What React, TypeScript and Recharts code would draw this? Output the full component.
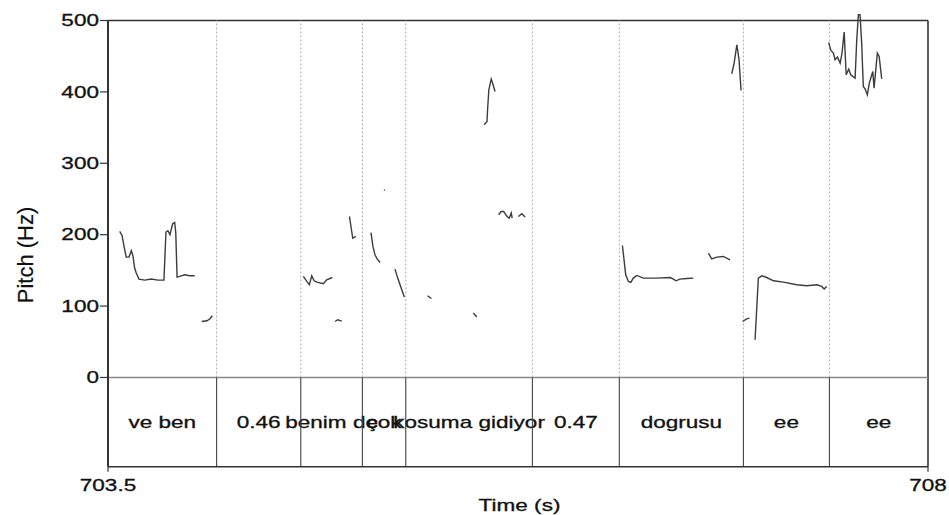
import React from 'react';
import { LineChart, Line, XAxis, YAxis, ReferenceLine, ReferenceArea } from 'recharts';

const FONT = '"Liberation Sans", Arial, sans-serif';

// ---- axes ----
const TIME_DOMAIN: [number, number] = [703.5, 708];
const TIME_TICKS = [703.5, 708];
const PITCH_DOMAIN: [number, number] = [-125, 500];
const PITCH_TICKS = [0, 100, 200, 300, 400, 500];

// ---- TextGrid tier ----
const BOUNDARIES = [704.096, 704.558, 704.896, 705.134, 705.829, 706.306, 706.987, 707.459];
const INTERVAL_LABELS = ['ve ben', '0.46', 'benim de', 'çok', 'kosuma gidiyor', '0.47', 'dogrusu', 'ee', 'ee'];

// ---- pitch contour pieces: [time (s), pitch (Hz)] ----
const seg01 = [[703.564, 204.5], [703.577, 199], [703.588, 183.5], [703.6, 168.6], [703.615, 168.6], [703.628, 177.5], [703.637, 170.4], [703.646, 153.2], [703.655, 146.2], [703.67, 137.8], [703.701, 136.4], [703.738, 137.8], [703.774, 136.4], [703.807, 136.4], [703.818, 203.6], [703.829, 205.5], [703.84, 199.9], [703.855, 215.3], [703.866, 217], [703.872, 202.2], [703.879, 140.6], [703.893, 141.5], [703.921, 143.8], [703.948, 142.4], [703.976, 142.4]];
const seg02 = [[704.014, 78.4], [704.043, 79.4], [704.06, 82.2], [704.072, 86.4]];
const seg03 = [[704.572, 141.5], [704.591, 134.5], [704.605, 129.8], [704.618, 142.4], [704.631, 135.4], [704.646, 133.6], [704.682, 131.2], [704.7, 136.8], [704.731, 140]];
const seg04 = [[704.746, 78.4], [704.761, 80.8], [704.783, 79]];
const seg05 = [[704.825, 225.5], [704.836, 206.9], [704.843, 195.2], [704.86, 197.5]];
const seg06 = [[704.943, 203], [704.954, 183.5], [704.965, 171.8], [704.978, 165.8], [704.993, 161.1]];
const seg07 = [[705.015, 263], [705.019, 262]];
const seg08 = [[705.075, 151.8], [705.09, 139.2], [705.106, 127.5], [705.126, 112.6]];
const seg09 = [[705.253, 114.4], [705.275, 110.6]];
const seg10 = [[705.505, 90.2], [705.524, 84.6]];
const seg11 = [[705.564, 353.9], [705.58, 358.5], [705.583, 375], [705.59, 403], [705.603, 418], [705.611, 412], [705.624, 400.6]];
const seg12 = [[705.644, 227.9], [705.657, 232.5], [705.671, 232.5], [705.69, 225.5], [705.702, 223.2], [705.713, 230.3], [705.718, 223.2]];
const seg13 = [[705.752, 225.5], [705.771, 229.3], [705.789, 224.6]];
const seg14 = [[706.323, 184.9], [706.332, 164.8], [706.341, 143.8], [706.356, 134.5], [706.369, 133.1], [706.383, 139.2], [706.402, 142.9], [706.438, 139.2], [706.511, 139.2], [706.585, 140], [706.603, 137.8], [706.617, 135.4], [706.639, 137.8], [706.676, 138.7], [706.712, 139.2]];
const seg15 = [[706.795, 174.2], [706.813, 166.2], [706.841, 168.6], [706.877, 169.5], [706.914, 164.8]];
const seg16 = [[706.923, 425.4], [706.936, 440.3], [706.951, 466], [706.963, 445], [706.974, 402]];
const seg17 = [[706.983, 78.4], [707.002, 81.8], [707.02, 83.2]];
const seg18 = [[707.051, 52.8], [707.069, 139.2], [707.088, 142.4], [707.115, 140], [707.152, 135.4], [707.206, 133.6], [707.28, 129.8], [707.335, 128.4], [707.39, 129.8], [707.417, 127.5], [707.43, 123.8], [707.444, 127.5]];
const seg19 = [[707.455, 469.2], [707.467, 458], [707.481, 454.3], [707.49, 445], [707.503, 448.7], [707.518, 440.3], [707.528, 454.3], [707.54, 483.7], [707.551, 424], [707.565, 431.9], [707.576, 424], [707.6, 419.3], [707.609, 473], [707.618, 508], [707.627, 508], [707.636, 468.3], [707.645, 407.6], [707.655, 404], [707.667, 396], [707.678, 412.3], [707.697, 428.6], [707.704, 405.3], [707.722, 454.3], [707.732, 449.6], [707.746, 418.3]];

const SEGMENTS = [seg01, seg02, seg03, seg04, seg05, seg06, seg07, seg08, seg09, seg10, seg11, seg12, seg13, seg14, seg15, seg16, seg17, seg18, seg19];

const toPoints = (seg: number[][]) => seg.map(([t, hz]) => ({ t, hz }));

const intervals = INTERVAL_LABELS.map((label, i) => ({
  label,
  start: i === 0 ? TIME_DOMAIN[0] : BOUNDARIES[i - 1],
  end: i === BOUNDARIES.length ? TIME_DOMAIN[1] : BOUNDARIES[i],
}));

const TEXT_COLOR = '#111';
const STRETCH = 1.41;
const FS = 16;

const StretchText = ({ x, y, anchor, children }: any) => (
  <text
    transform={`translate(${x},${y}) scale(${STRETCH},1)`}
    textAnchor={anchor}
    fontFamily={FONT}
    fontSize={FS}
    fill={TEXT_COLOR}
    stroke={TEXT_COLOR}
    strokeWidth={0.3}
  >
    {children}
  </text>
);

const YTick = (props: any) => {
  const { x, y, payload } = props;
  return <StretchText x={x} y={y + 5.8} anchor="end">{payload.value}</StretchText>;
};

const XTick = (props: any) => {
  const { x, y, payload } = props;
  return <StretchText x={x} y={y + 17.5} anchor="middle">{payload.value}</StretchText>;
};

const makeTierLabel = (text: string) => (props: any) => {
  const vb = props.viewBox || {};
  return <StretchText x={vb.x + vb.width / 2} y={vb.y + vb.height / 2 + 6} anchor="middle">{text}</StretchText>;
};

const TimeLabel = (props: any) => {
  const vb = props.viewBox || {};
  return <StretchText x={vb.x + vb.width / 2 + 1.5} y={vb.y + 44.5} anchor="middle">Time (s)</StretchText>;
};

const PitchLabel = () => (
  <text transform="translate(33,255) rotate(-90)" textAnchor="middle" fontFamily={FONT} fontSize={22} fill={TEXT_COLOR} stroke={TEXT_COLOR} strokeWidth={0.2}>
    Pitch (Hz)
  </text>
);

export default function App() {
  return (
    <div style={{ position: 'absolute', left: 0, top: 0, width: 949, height: 515, overflow: 'hidden' }}>
      <style>{'.recharts-line g, .recharts-line path { clip-path: none !important; }'}</style>
      <LineChart width={949} height={515} margin={{ top: 20.5, right: 21, left: 0, bottom: 0 }}>
        <XAxis
          type="number"
          dataKey="t"
          domain={TIME_DOMAIN}
          ticks={TIME_TICKS}
          allowDataOverflow
          height={48.3}
          axisLine={{ stroke: '#333', strokeWidth: 1.6 }}
          tickLine={{ stroke: '#333', strokeWidth: 1.2 }}
          tickSize={5}
          tickMargin={2}
          tick={<XTick />}
          label={{ content: (p: any) => <TimeLabel {...p} /> }}
        />
        <YAxis
          type="number"
          dataKey="hz"
          domain={PITCH_DOMAIN}
          ticks={PITCH_TICKS}
          allowDataOverflow
          width={108}
          axisLine={{ stroke: '#333', strokeWidth: 2 }}
          tickLine={{ stroke: '#333', strokeWidth: 1.2 }}
          tickSize={8}
          tickMargin={1}
          tick={<YTick />}
          label={{ content: () => <PitchLabel /> }}
        />
        <ReferenceLine y={500} stroke="#333" strokeWidth={1.6} />
        <ReferenceLine x={708} stroke="#333" strokeWidth={1.6} />
        <ReferenceLine y={0} stroke="#888" strokeWidth={1.4} />
        {BOUNDARIES.map((b) => (
          <ReferenceLine key={`dot-${b}`} segment={[{ x: b, y: 0 }, { x: b, y: 500 }]} stroke="#aaa" strokeWidth={1} strokeDasharray="2 2" />
        ))}
        {BOUNDARIES.map((b) => (
          <ReferenceLine key={`solid-${b}`} segment={[{ x: b, y: -125 }, { x: b, y: 0 }]} stroke="#444" strokeWidth={1.1} />
        ))}
        {intervals.map((iv, i) => (
          <ReferenceArea
            key={`iv-${i}`}
            x1={iv.start}
            x2={iv.end}
            y1={-125}
            y2={0}
            fill="none"
            fillOpacity={0}
            stroke="none"
            label={makeTierLabel(iv.label)}
          />
        ))}
        {SEGMENTS.map((seg, i) => (
          <Line
            key={`seg-${i}`}
            data={toPoints(seg)}
            dataKey="hz"
            type="linear"
            stroke="#3c3c3c"
            strokeWidth={1.4}
            dot={false}
            activeDot={false}
            isAnimationActive={false}
          />
        ))}
      </LineChart>
    </div>
  );
}
